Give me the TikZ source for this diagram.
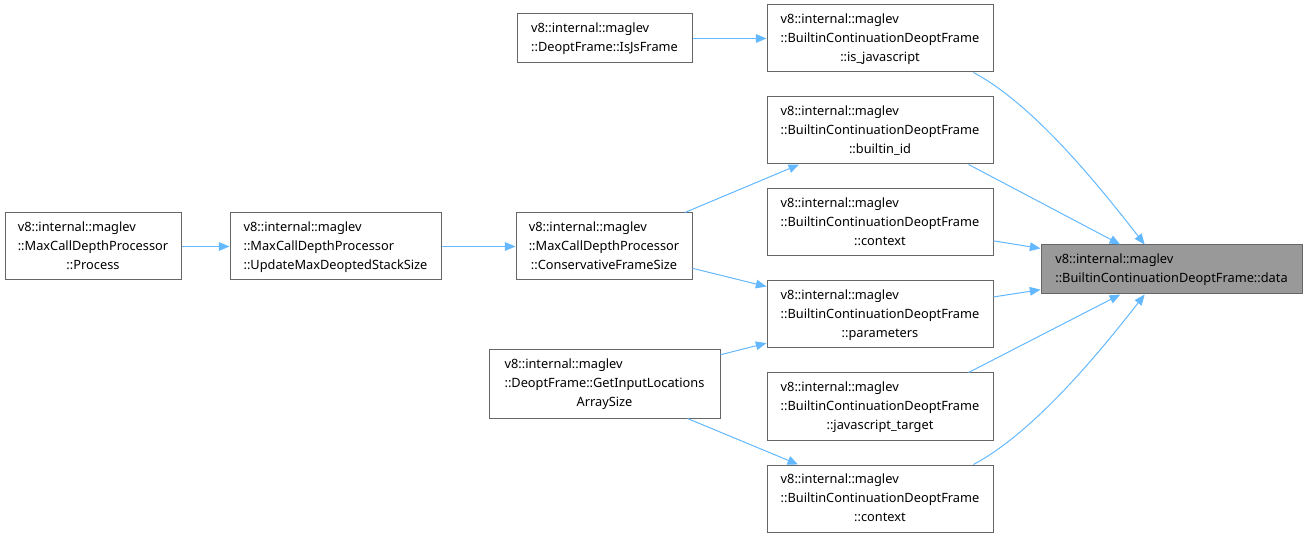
\documentclass[tikz,border=0pt]{standalone}
\usepackage{fontspec}
\setmainfont{Noto Sans}
\usetikzlibrary{arrows.meta,positioning}
\newcommand{\fnthree}[3]{\begin{tabular}{@{}l@{}}#1\\#2\\\multicolumn{1}{@{}c@{}}{#3}\end{tabular}}
\newcommand{\fntwo}[2]{\begin{tabular}{@{}l@{}}#1\\\multicolumn{1}{@{}c@{}}{#2}\end{tabular}}
\definecolor{edgeblue}{HTML}{63B8FF}
\definecolor{boxgray}{HTML}{666666}
\definecolor{hlgray}{HTML}{999999}
\tikzset{
  fn/.style={draw=boxgray,line width=.75pt,fill=white,inner sep=0pt,minimum height=50.25pt},
  hl/.style={fn,fill=hlgray},
  call/.style={draw=edgeblue,line width=.75pt,-{Triangle[length=8pt,width=6.5pt]}}
}
\begin{document}
\begin{tikzpicture}[x=0.75pt,y=0.75pt,every node/.style={font=\fontsize{9.6}{14.25}\selectfont}]
\useasboundingbox (0,0) rectangle (1307,-538);
\node[fn,minimum width=132pt] (process) at (93,-246.5) {\fnthree{v8::internal::maglev}{::MaxCallDepthProcessor}{::Process}};
\node[fn,minimum width=158.25pt] (update) at (335.5,-246.5) {\fnthree{v8::internal::maglev}{::MaxCallDepthProcessor}{::UpdateMaxDeoptedStackSize}};
\node[fn,minimum width=132pt] (conservative) at (604,-246.5) {\fnthree{v8::internal::maglev}{::MaxCallDepthProcessor}{::ConservativeFrameSize}};
\node[fn,minimum width=131.25pt,minimum height=36.75pt] (isjsframe) at (604.5,-38.5) {\fntwo{v8::internal::maglev}{::DeoptFrame::IsJsFrame}};
\node[fn,minimum width=173.25pt,minimum height=51pt] (getinput) at (604.5,-384) {\fnthree{v8::internal::maglev}{::DeoptFrame::GetInputLocations}{ArraySize}};
\node[fn,minimum width=169.5pt] (isjavascript) at (880,-38.5) {\fnthree{v8::internal::maglev}{::BuiltinContinuationDeoptFrame}{::is\_javascript}};
\node[fn,minimum width=169.5pt] (builtinid) at (880,-130.5) {\fnthree{v8::internal::maglev}{::BuiltinContinuationDeoptFrame}{::builtin\_id}};
\node[fn,minimum width=169.5pt] (contexta) at (880,-222.5) {\fnthree{v8::internal::maglev}{::BuiltinContinuationDeoptFrame}{::context}};
\node[fn,minimum width=169.5pt] (parameters) at (880,-314.5) {\fnthree{v8::internal::maglev}{::BuiltinContinuationDeoptFrame}{::parameters}};
\node[fn,minimum width=169.5pt] (jstarget) at (880,-406.5) {\fnthree{v8::internal::maglev}{::BuiltinContinuationDeoptFrame}{::javascript\_target}};
\node[fn,minimum width=169.5pt] (contextb) at (880,-498.5) {\fnthree{v8::internal::maglev}{::BuiltinContinuationDeoptFrame}{::context}};
\node[hl,minimum width=195.75pt,minimum height=36.75pt] (data) at (1171.5,-269.5) {\fntwo{v8::internal::maglev}{::BuiltinContinuationDeoptFrame::data}};
\draw[call] (process) -- (update);
\draw[call] (update) -- (conservative);
\draw[call] (conservative) -- (builtinid);
\draw[call] (conservative) -- (parameters);
\draw[call] (isjsframe) -- (isjavascript);
\draw[call] (getinput) -- (parameters);
\draw[call] (getinput) -- (contextb);
\draw[call] (isjavascript.-20) .. controls +(-28:70) and +(128:70) .. (data.137);
\draw[call] (builtinid.-21.5) -- (data.154.6);
\draw[call] (contexta) -- (data);
\draw[call] (parameters) -- (data);
\draw[call] (jstarget.21.5) -- (data.-154.6);
\draw[call] (contextb.20) .. controls +(28:70) and +(-128:70) .. (data.-137);
\end{tikzpicture}
\end{document}
